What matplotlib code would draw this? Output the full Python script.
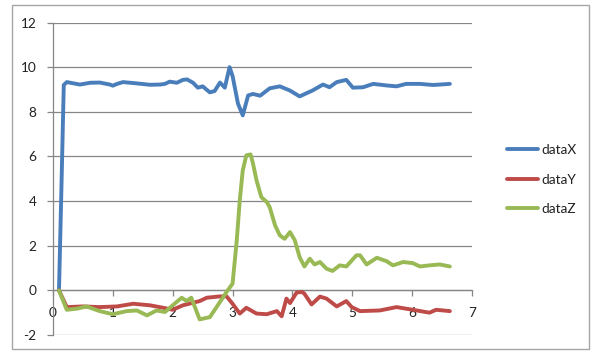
import matplotlib
matplotlib.use("Agg")
import matplotlib.pyplot as plt
from matplotlib.patches import Rectangle

# ---- data ----
tX = [0.10, 0.14, 0.18, 0.23, 0.45, 0.62, 0.78, 0.95, 1.00, 1.07, 1.17, 1.37, 1.62, 1.79, 1.87,
      1.95, 2.07, 2.17, 2.24, 2.34, 2.42, 2.50, 2.62, 2.70, 2.79, 2.87, 2.95, 3.00, 3.09, 3.17,
      3.26, 3.34, 3.46, 3.62, 3.79, 3.96, 4.12, 4.34, 4.51, 4.62, 4.74, 4.90, 5.01, 5.18, 5.35,
      5.57, 5.74, 5.90, 6.13, 6.35, 6.63]
dataX = [0.0, 4.5, 9.2, 9.33, 9.22, 9.30, 9.31, 9.22, 9.17, 9.25, 9.33, 9.28, 9.21, 9.22, 9.25,
         9.35, 9.30, 9.43, 9.45, 9.30, 9.08, 9.14, 8.87, 8.93, 9.31, 9.08, 10.0, 9.6, 8.37, 7.84,
         8.73, 8.80, 8.72, 9.05, 9.14, 8.95, 8.69, 8.96, 9.22, 9.10, 9.33, 9.43, 9.08, 9.10, 9.25,
         9.18, 9.14, 9.25, 9.25, 9.20, 9.25]

tY = [0.10, 0.23, 0.50, 0.78, 1.07, 1.34, 1.62, 1.84, 2.00, 2.17, 2.45, 2.57, 2.79, 2.90, 3.00,
      3.12, 3.23, 3.40, 3.57, 3.74, 3.82, 3.90, 3.96, 4.07, 4.16, 4.20, 4.32, 4.46, 4.57, 4.74,
      4.90, 4.99, 5.13, 5.46, 5.74, 6.01, 6.29, 6.40, 6.63]
dataY = [0.0, -0.75, -0.72, -0.75, -0.72, -0.60, -0.67, -0.78, -0.87, -0.67, -0.48, -0.33, -0.27,
         -0.27, -0.60, -1.04, -0.78, -1.04, -1.07, -0.93, -1.16, -0.37, -0.57, -0.10, -0.07, -0.15,
         -0.63, -0.28, -0.37, -0.72, -0.48, -0.75, -0.93, -0.90, -0.75, -0.87, -1.00, -0.87, -0.93]

tZ = [0.10, 0.23, 0.40, 0.56, 0.78, 1.00, 1.23, 1.40, 1.57, 1.73, 1.87, 2.00, 2.15, 2.23, 2.31,
      2.45, 2.62, 2.79, 2.90, 3.00, 3.07, 3.12, 3.17, 3.23, 3.30, 3.34, 3.40, 3.48, 3.57, 3.62,
      3.71, 3.79, 3.87, 3.96, 4.04, 4.12, 4.20, 4.29, 4.37, 4.46, 4.57, 4.67, 4.79, 4.90, 5.07,
      5.13, 5.24, 5.41, 5.57, 5.68, 5.85, 6.01, 6.13, 6.29, 6.46, 6.63]
dataZ = [0.0, -0.87, -0.82, -0.72, -0.93, -1.07, -0.93, -0.90, -1.12, -0.90, -0.97, -0.67, -0.33,
         -0.48, -0.33, -1.30, -1.20, -0.52, -0.07, 0.30, 2.24, 4.03, 5.37, 6.05, 6.09, 5.70, 4.93,
         4.18, 3.96, 3.73, 2.91, 2.46, 2.31, 2.61, 2.24, 1.49, 1.07, 1.42, 1.16, 1.27, 0.97, 0.87,
         1.12, 1.07, 1.57, 1.57, 1.16, 1.46, 1.31, 1.12, 1.27, 1.22, 1.07, 1.12, 1.16, 1.07]

series_names = ["dataX", "dataY", "dataZ"]
colors = ["#4A7EBB", "#BE4B48", "#98B954"]
x_ticks = [0, 1, 2, 3, 4, 5, 6, 7]
y_ticks = [-2, 0, 2, 4, 6, 8, 10, 12]

# ---- figure ----
W, H = 592, 352
fig = plt.figure(figsize=(W / 100, H / 100), dpi=100)
fig.patch.set_facecolor("white")
fig.patches.append(Rectangle((12 / W, 1 - 349 / H), 577 / W, 344 / H, transform=fig.transFigure,
                             fill=False, edgecolor="#A6A6A6", linewidth=1.0))

ax = fig.add_axes([53 / W, 1 - 335 / H, (472 - 53) / W, (335 - 22.5) / H])
ax.set_xlim(0, 7)
ax.set_ylim(-2, 12)

font = ["Lato", "DejaVu Sans"]
gray = "#868686"
txtcol = "#222222"
for yv in y_ticks:
    ax.axhline(yv, color=gray, linewidth=0.9, zorder=1)

for t, d, c, n in zip([tX, tY, tZ], [dataX, dataY, dataZ], colors, series_names):
    ax.plot(t, d, color=c, linewidth=2.8, label=n, solid_joinstyle="round",
            solid_capstyle="round", zorder=3)

for s in ["top", "right"]:
    ax.spines[s].set_visible(False)
ax.spines["bottom"].set_position(("data", 0))
ax.spines["bottom"].set_color(gray)
ax.spines["left"].set_color(gray)
ax.spines["bottom"].set_linewidth(0.9)
ax.spines["left"].set_linewidth(0.9)
ax.spines["bottom"].set_zorder(2)

ax.set_xticks(x_ticks)
ax.set_xticklabels([str(v) for v in x_ticks], fontfamily=font, fontsize=9.8, color=txtcol)
ax.set_yticks(y_ticks)
ax.set_yticklabels([str(v) for v in y_ticks], fontfamily=font, fontsize=9.8, color=txtcol)
ax.tick_params(axis="x", direction="out", length=4, width=0.9, color=gray, pad=8)
ax.tick_params(axis="y", direction="out", length=4, width=0.9, color=gray, pad=8)

leg = fig.legend(loc="upper left", bbox_to_anchor=(500 / W, 1 - 137 / H), frameon=False,
                 prop={"family": font, "size": 9.8}, handlelength=2.3, handletextpad=0.25,
                 labelspacing=1.3, borderpad=0)
for txt in leg.get_texts():
    txt.set_color(txtcol)

fig.savefig("out.png", dpi=100)
